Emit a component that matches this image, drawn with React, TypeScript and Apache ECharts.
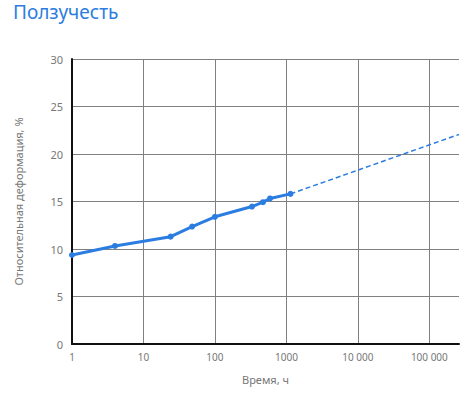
import React, { useEffect, useRef } from "react";
import * as echarts from "echarts";

const hours = [1, 4, 24, 48, 100, 330, 470, 590, 1140];
const strain = [9.37, 10.32, 11.3, 12.36, 13.39, 14.47, 14.93, 15.32, 15.8];
const forecastHours = [1140, 260000];
const forecastStrain = [15.8, 22.06];
const xTickValues = [1, 10, 100, 1000, 10000, 100000];
const xTickLabels = ["1", "10", "100", "1000", "10 000", "100 000"];

const BLUE = "#2b7de1";
const FONT = "'Noto Sans', sans-serif";

export default function App() {
  const ref = useRef<HTMLDivElement>(null);
  useEffect(() => {
    if (!ref.current) return;
    const chart = echarts.init(ref.current, undefined, { renderer: "svg" });
    chart.setOption({
      animation: false,
      textStyle: { fontFamily: FONT },
      title: {
        text: "Ползучесть",
        left: 8,
        top: -3,
        textStyle: { color: BLUE, fontSize: 19, fontWeight: "normal", fontFamily: FONT },
      },
      grid: { left: 72, right: 11, top: 59, bottom: 56, containLabel: false },
      xAxis: {
        type: "log",
        logBase: 10,
        min: 1,
        max: 260000,
        name: "Время, ч",
        nameLocation: "middle",
        nameGap: 30,
        nameTextStyle: { color: "#777", fontSize: 11, fontFamily: FONT },
        axisLine: { show: true, lineStyle: { color: "#111", width: 2 } },
        axisTick: { show: false },
        axisLabel: {
          color: "#777",
          fontSize: 10,
          margin: 8,
          showMaxLabel: false,
          formatter: (v: number) => {
            const i = xTickValues.findIndex((t) => Math.abs(t - v) / t < 1e-6);
            return i >= 0 ? xTickLabels[i] : "";
          },
        },
        splitLine: { show: true, showMaxLine: false, lineStyle: { color: "#808080", width: 1 } },
      },
      yAxis: {
        type: "value",
        min: 0,
        max: 30,
        interval: 5,
        name: "Относительная деформация, %",
        nameLocation: "middle",
        nameGap: 48,
        nameTextStyle: { color: "#777", fontSize: 11, fontFamily: FONT },
        axisLine: { show: true, lineStyle: { color: "#111", width: 2 } },
        axisTick: { show: false },
        axisLabel: { color: "#777", fontSize: 11, margin: 9 },
        splitLine: { show: true, lineStyle: { color: "#808080", width: 1 } },
      },
      series: [
        {
          type: "line",
          data: forecastHours.map((h, i) => [h, forecastStrain[i]]),
          showSymbol: false,
          lineStyle: { color: BLUE, width: 1.5, type: [5, 3] },
          z: 2,
        },
        {
          type: "line",
          data: hours.map((h, i) => [h, strain[i]]),
          symbol: "circle",
          symbolSize: 6,
          itemStyle: { color: BLUE },
          lineStyle: { color: BLUE, width: 3 },
          z: 3,
        },
      ],
    });
    return () => chart.dispose();
  }, []);
  return (
    <div
      ref={ref}
      style={{ position: "fixed", left: 0, top: 0, width: 470, height: 400, background: "#fff" }}
    />
  );
}
